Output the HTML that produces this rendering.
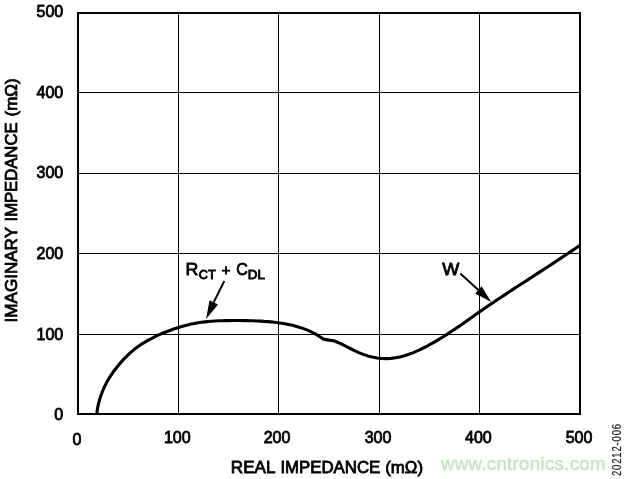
<!DOCTYPE html>
<html>
<head>
<meta charset="utf-8">
<title>Impedance plot</title>
<style>
html,body{margin:0;padding:0;background:#fff;}
body{width:625px;height:479px;overflow:hidden;}
svg{display:block;}
text{font-family:"Liberation Sans",sans-serif;font-weight:normal;fill:#000;stroke:#000;stroke-width:0.8px;stroke-linejoin:miter;}
.t{font-size:16px;}
.k{font-size:16px;}
.s{font-size:12.8px;stroke-width:0.9px;}
.p{font-size:14.5px;}
.r{text-anchor:end;}
.m{text-anchor:middle;}
</style>
</head>
<body>
<svg width="625" height="479" viewBox="0 0 625 479">
<rect x="0" y="0" width="625" height="479" fill="#fff"/>
<!-- grid -->
<g fill="#000" shape-rendering="crispEdges">
<rect x="78" y="92" width="502" height="1"/>
<rect x="78" y="173" width="502" height="1"/>
<rect x="78" y="253" width="502" height="1"/>
<rect x="78" y="334" width="502" height="1"/>
<rect x="178" y="13" width="1" height="401"/>
<rect x="278" y="13" width="1" height="401"/>
<rect x="379" y="13" width="1" height="401"/>
<rect x="479" y="13" width="1" height="401"/>
</g>
<rect x="78" y="13" width="502" height="401" fill="none" stroke="#000" stroke-width="2"/>
<!-- curve -->
<path id="curve" fill="none" stroke="#000" stroke-width="3.1" stroke-linejoin="round" stroke-linecap="butt"
 d="M96.8 414.0 L97.2 410.5 L97.8 407.0 L98.5 403.6 L99.4 400.3 L100.4 397.0 L101.6 393.7 L102.8 390.5 L104.2 387.3 L105.8 384.2 L107.4 381.1 L109.2 378.1 L111.1 375.2 L113.0 372.3 L115.1 369.5 L117.3 366.7 L119.5 364.0 L121.8 361.4 L124.1 358.8 L126.6 356.3 L129.1 353.9 L131.7 351.6 L134.3 349.3 L137.1 347.2 L139.9 345.3 L142.8 343.4 L145.8 341.6 L148.8 339.9 L151.9 338.3 L155.0 336.7 L158.1 335.2 L161.3 333.8 L164.5 332.5 L167.8 331.2 L171.1 330.0 L174.4 328.8 L177.7 327.7 L181.0 326.7 L184.4 325.8 L187.8 324.9 L191.2 324.1 L194.6 323.4 L198.0 322.8 L201.4 322.3 L204.9 321.9 L208.4 321.5 L211.8 321.2 L215.3 321.0 L218.8 320.8 L222.2 320.7 L225.7 320.6 L229.2 320.6 L232.7 320.5 L236.2 320.5 L239.6 320.5 L243.1 320.6 L246.6 320.6 L250.1 320.7 L253.6 320.8 L257.0 321.0 L260.5 321.1 L264.0 321.4 L267.5 321.6 L271.0 321.9 L274.5 322.3 L277.9 322.7 L281.4 323.2 L284.8 323.7 L288.3 324.4 L291.7 325.1 L295.0 325.9 L298.3 326.9 L301.6 327.9 L304.9 329.1 L308.1 330.4 L311.2 331.8 L314.3 333.4 L317.3 335.1 L320.3 337.0 L323.2 339.1 L328.8 340.1 L333.8 340.7 L337.6 342.3 L341.8 344.2 L346.0 346.3 L350.3 348.5 L354.5 350.6 L358.8 352.6 L363.3 354.4 L367.8 355.9 L372.3 357.1 L377.0 358.0 L381.6 358.5 L386.2 358.6 L390.9 358.4 L395.4 357.8 L400.0 356.9 L404.5 355.7 L409.0 354.3 L413.4 352.6 L417.8 350.7 L422.1 348.7 L426.4 346.5 L430.6 344.2 L434.8 341.9 L438.9 339.4 L442.9 337.0 L446.9 334.4 L450.8 331.8 L454.7 329.2 L458.6 326.6 L462.5 323.9 L466.3 321.2 L470.1 318.5 L474.0 315.8 L477.8 313.1 L481.6 310.5 L485.5 307.8 L489.4 305.1 L493.3 302.5 L497.2 299.8 L501.1 297.2 L505.0 294.6 L509.0 292.0 L512.9 289.4 L516.9 286.8 L520.9 284.2 L524.8 281.7 L528.8 279.1 L532.8 276.5 L536.8 273.9 L540.7 271.4 L544.7 268.8 L548.7 266.2 L552.6 263.6 L556.6 261.0 L560.5 258.4 L564.4 255.8 L568.3 253.2 L572.2 250.6 L576.1 247.9 L580.0 245.3"/>
<!-- y tick labels -->
<text class="k r" x="63.2" y="17">500</text>
<text class="k r" x="63.2" y="98">400</text>
<text class="k r" x="63.2" y="178">300</text>
<text class="k r" x="63.2" y="258.5">200</text>
<text class="k r" x="63.2" y="339.8">100</text>
<text class="k r" x="63.2" y="419.7">0</text>
<!-- x tick labels -->
<text class="k m" x="77" y="444.7">0</text>
<text class="k m" x="177.3" y="443.2">100</text>
<text class="k m" x="277" y="443.2">200</text>
<text class="k m" x="378" y="443.2">300</text>
<text class="k m" x="478.4" y="443.2">400</text>
<text class="k m" x="579" y="443.2">500</text>
<!-- axis titles -->
<text class="t" y="472.5"><tspan x="230.88" textLength="43.95" lengthAdjust="spacingAndGlyphs">REAL</tspan> <tspan x="280.45" textLength="99.77" lengthAdjust="spacingAndGlyphs">IMPEDANCE</tspan> <tspan x="385.27" textLength="37.79" lengthAdjust="spacingAndGlyphs">(mΩ)</tspan></text>
<text class="t" transform="translate(16.5,0) rotate(-90)" y="0"><tspan x="-322.45" textLength="95.15" lengthAdjust="spacingAndGlyphs">IMAGINARY</tspan> <tspan x="-221.5" textLength="99.05" lengthAdjust="spacingAndGlyphs">IMPEDANCE</tspan> <tspan x="-116.48" textLength="38.04" lengthAdjust="spacingAndGlyphs">(mΩ)</tspan></text>
<!-- annotations -->
<text class="t"><tspan x="185.47" y="275.4" textLength="12.88" lengthAdjust="spacingAndGlyphs">R</tspan><tspan class="s" x="198.77" y="279.4" textLength="16.82" lengthAdjust="spacingAndGlyphs">CT</tspan> <tspan class="p" x="221.46" y="275" textLength="9.04" lengthAdjust="spacingAndGlyphs">+</tspan> <tspan x="236.27" y="275.4" textLength="11.6" lengthAdjust="spacingAndGlyphs">C</tspan><tspan class="s" x="247.84" y="279.4" textLength="17" lengthAdjust="spacingAndGlyphs">DL</tspan></text>
<text class="t" x="442.38" y="275.4" textLength="17.06" lengthAdjust="spacingAndGlyphs">W</text>
<g stroke="#000" stroke-width="2" fill="#000">
<line x1="224.3" y1="281" x2="213.7" y2="302.4"/>
<polygon points="206.1,318.9 209.5,300.3 218,304.5" stroke="none"/>
<line x1="460.3" y1="273.5" x2="478.4" y2="289.9"/>
<polygon points="491.2,302 475.2,293.4 481.6,286.3" stroke="none"/>
</g>
<!-- watermark & figure id -->
<text x="441" y="470" textLength="164.5" lengthAdjust="spacing" style="font-size:18.6px;fill:#c3e6bd;stroke:#c3e6bd;stroke-width:0.4px">www.cntronics.com</text>
<text transform="translate(621.3,476) rotate(-90) scale(0.78,1)" style="font-size:12.2px;letter-spacing:1.05px;fill:#1a1a1a;stroke:#1a1a1a;stroke-width:0.2px">20212-006</text>
</svg>
</body>
</html>
